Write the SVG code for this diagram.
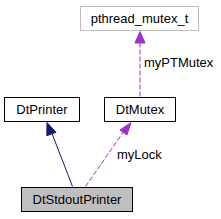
<svg xmlns="http://www.w3.org/2000/svg" width="221" height="219" viewBox="0 0 221 219">
<style>
text{font-family:"Liberation Sans",Arial,sans-serif;font-size:13px;fill:#000}
.box{fill:#fff;stroke:#000;stroke-width:1}
.ext{fill:#fff;stroke:#bfbfbf;stroke-width:1}
.cur{fill:#bfbfbf;stroke:#000;stroke-width:1}
.inh{fill:none;stroke:#191970;stroke-width:1}
.use{fill:none;stroke:#9a32cd;stroke-width:1;stroke-dasharray:5,2}
</style>
<rect width="221" height="219" fill="#fff"/>
<g id="edges">
<path class="inh" d="M72.5,186.5 L52,133.5"/>
<polygon fill="#191970" stroke="#191970" points="47,122.5 46.8,135.7 56,132.3"/>
<path class="use" d="M85.5,186.5 L124,131"/>
<polygon fill="#9a32cd" stroke="#9a32cd" points="131,122.5 120,130 127,135"/>
<text x="117" y="158.5">myLock</text>
<path class="use" d="M140,96.5 L140,42"/>
<polygon fill="#9a32cd" stroke="#9a32cd" points="140,31.5 135,43 145,43"/>
<text x="144" y="67">myPTMutex</text>
</g>
<g id="pthread_mutex_t">
<rect class="ext" x="80.5" y="6.5" width="118" height="24"/>
<text x="139.5" y="22.5" text-anchor="middle">pthread_mutex_t</text>
</g>
<g id="DtPrinter">
<rect class="box" x="4.5" y="97.5" width="75" height="24"/>
<text x="42" y="113.5" text-anchor="middle">DtPrinter</text>
</g>
<g id="DtMutex">
<rect class="box" x="104.5" y="97.5" width="71" height="24"/>
<text x="140" y="113.5" text-anchor="middle">DtMutex</text>
</g>
<g id="DtStdoutPrinter">
<rect class="cur" x="21.5" y="187.5" width="111" height="24"/>
<text x="77" y="203.5" text-anchor="middle">DtStdoutPrinter</text>
</g>
</svg>
